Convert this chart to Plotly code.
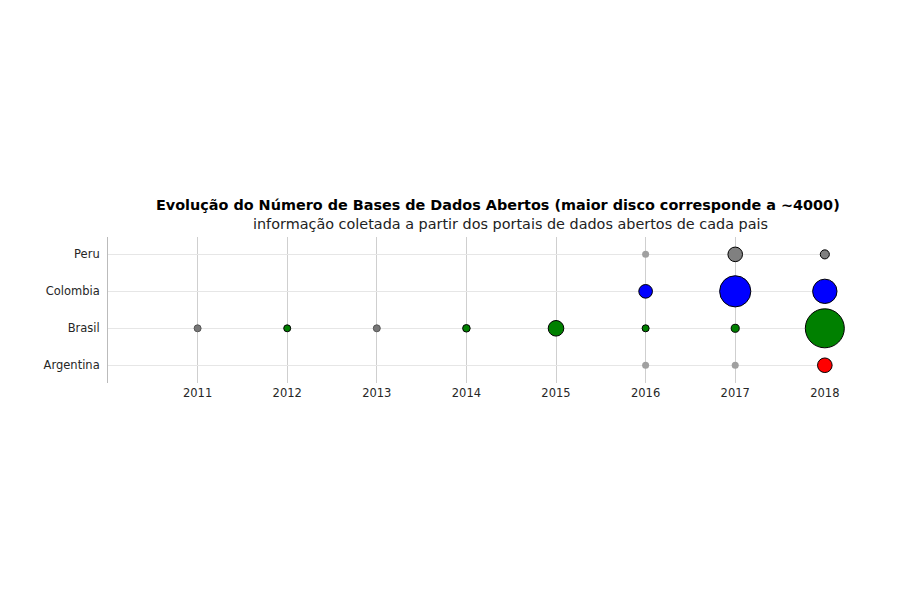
import plotly.graph_objects as go

years = [2011, 2012, 2013, 2014, 2015, 2016, 2017, 2018]
countries = ["Argentina", "Brasil", "Colombia", "Peru"]
country_colors = {"Argentina": "#ff0000", "Brasil": "#008000", "Colombia": "#0000ff", "Peru": "#808080"}

argentina = [None, None, None, None, None, 2, 2, 560]
brasil = [30, 80, 40, 150, 640, 130, 170, 4000]
colombia = [None, None, None, None, None, 490, 2560, 1560]
peru = [None, None, None, None, None, 2, 560, 216]

series = {"Argentina": argentina, "Brasil": brasil, "Colombia": colombia, "Peru": peru}

title_text = "<b>Evolução do Número de Bases de Dados Abertos (maior disco corresponde a ~4000)</b>"
subtitle_text = "informação coletada a partir dos portais de dados abertos de cada pais"

max_val = max(max(v for v in s if v is not None) for s in series.values())
max_diam = 39
sizeref = 2.0 * max_val / (max_diam ** 2)

fig = go.Figure()
for c in countries:
    vals = series[c]
    xs = [y for y, v in zip(years, vals) if v is not None]
    vs = [v for v in vals if v is not None]
    cols = ["#a0a0a0" if v < 10 else ("#777777" if v < 50 else country_colors[c]) for v in vs]
    lcols = ["#a0a0a0" if v < 10 else ("#555555" if v < 50 else "black") for v in vs]
    lw = [0 if v < 10 else 1 for v in vs]
    fig.add_trace(go.Scatter(
        x=xs, y=[c] * len(xs), mode="markers", name=c,
        marker=dict(size=vs, sizemode="area", sizeref=sizeref, sizemin=3.5,
                    color=cols, line=dict(color=lcols, width=lw), opacity=1),
        cliponaxis=False, showlegend=False,
    ))

fig.update_layout(
    width=900, height=600,
    margin=dict(l=100, r=83, t=229, b=225),
    paper_bgcolor="white", plot_bgcolor="white",
    font=dict(family="DejaVu Sans", size=11.5, color="#262626"),
    xaxis=dict(range=[2010, 2018.002], tickvals=years, ticktext=[str(y) for y in years],
               showgrid=True, gridcolor="#cfcfcf", gridwidth=1.3, zeroline=False,
               showline=False, ticks="", layer="above traces", ticklabelstandoff=1),
    yaxis=dict(type="category", categoryorder="array", categoryarray=countries,
               range=[-0.48, 3.47], showgrid=True, gridcolor="#e6e6e6", gridwidth=1,
               zeroline=False, showline=True, linecolor="#bbbbbb", linewidth=1,
               ticks="", layer="above traces", ticklabelstandoff=5),
    annotations=[
        dict(text=title_text, xref="paper", yref="paper", x=0.544, y=1.219,
             xanchor="center", yanchor="middle", showarrow=False,
             font=dict(family="DejaVu Sans", size=14.4, color="black")),
        dict(text=subtitle_text, xref="paper", yref="paper", x=0.561, y=1.089,
             xanchor="center", yanchor="middle", showarrow=False,
             font=dict(family="DejaVu Sans", size=14.4, color="#222222")),
    ],
)

fig.write_html("out.html")
